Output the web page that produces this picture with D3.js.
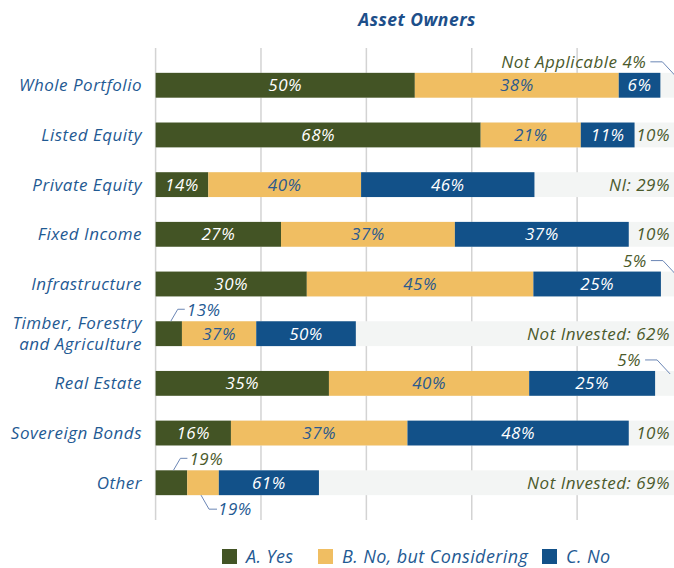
<!DOCTYPE html>
<html>
<head>
<meta charset="utf-8">
<script src="https://cdn.jsdelivr.net/npm/d3@7"></script>
<style>
  body { margin: 0; background: #fff; }
  text { font-family: "Open Sans", Lato, sans-serif; font-style: italic; letter-spacing: 0.5px; }
</style>
</head>
<body>
<svg id="chart"></svg>
<script>
// Asset owners survey, bar lengths are % of all respondents,
// labels are the printed shares
const categories = ['Whole Portfolio', 'Listed Equity', 'Private Equity', 'Fixed Income', 'Infrastructure',
  'Timber, Forestry and Agriculture', 'Real Estate', 'Sovereign Bonds', 'Other'];
const yesValues = [49.2, 61.7, 10.0, 23.8, 28.7, 5.0, 32.9, 14.3, 6.0];
const consideringValues = [38.7, 19.0, 29.0, 33.0, 43.0, 14.1, 38.0, 33.5, 6.0];
const noValues = [7.9, 10.2, 32.9, 33.0, 24.2, 18.9, 23.9, 42.0, 19.0];
const yesLabels = ['50%', '68%', '14%', '27%', '30%', '13%', '35%', '16%', '19%'];
const consideringLabels = ['38%', '21%', '40%', '37%', '45%', '37%', '40%', '37%', '19%'];
const noLabels = ['6%', '11%', '46%', '37%', '25%', '50%', '25%', '48%', '61%'];
const restLabels = ['Not Applicable 4%', '10%', 'NI: 29%', '10%', '5%', 'Not Invested: 62%', '5%', '10%', 'Not Invested: 69%'];
const gridTicks = [0, 20, 40, 60, 80, 100];
const seriesNames = ['A. Yes', 'B. No, but Considering', 'C. No'];

const width = 674, height = 568;
const colors = ['#435425', '#f0be62', '#125189'];
const labelColors = ['#ffffff', '#2b5a8f', '#ffffff'];
const blue = '#1f5a93', olive = '#4b5a2c', rest = '#f3f5f4', leader = '#6b86b5';
const fs = 17;

const svg = d3.select('#chart').attr('width', width).attr('height', height);

const x = d3.scaleLinear().domain([0, 100]).range([155.6, 682.5]);
const y = d3.scaleBand().domain(categories).range([48, 520]).paddingInner(0.5).paddingOuter(0.5);
const bw = y.bandwidth();

// title
svg.append('text')
  .attr('x', 417).attr('y', 26)
  .attr('text-anchor', 'middle')
  .attr('fill', '#1d4f8a')
  .attr('font-weight', 700)
  .attr('font-size', 17.5)
  .text('Asset Owners');

// gridlines
svg.append('g')
  .selectAll('line')
  .data(gridTicks)
  .join('line')
  .attr('x1', d => x(d)).attr('x2', d => x(d))
  .attr('y1', 48).attr('y2', 520)
  .attr('stroke', '#d3d3d3')
  .attr('stroke-width', 1.5);

// rows
const rows = categories.map((c, i) => {
  const vals = [yesValues[i], consideringValues[i], noValues[i]];
  const labs = [yesLabels[i], consideringLabels[i], noLabels[i]];
  let acc = 0;
  const segs = vals.map((v, k) => {
    const s = { k, x0: acc, x1: acc + v, label: labs[k] };
    acc += v;
    return s;
  });
  return { c, i, segs, end: acc, rest: restLabels[i] };
});

const row = svg.append('g')
  .selectAll('g')
  .data(rows)
  .join('g')
  .attr('transform', d => `translate(0,${y(d.c)})`);

// background for not invested / not applicable
row.append('rect')
  .attr('x', x(0)).attr('width', x(100) - x(0))
  .attr('height', bw)
  .attr('fill', rest);

row.selectAll('rect.seg')
  .data(d => d.segs)
  .join('rect')
  .attr('class', 'seg')
  .attr('x', d => x(d.x0))
  .attr('width', d => x(d.x1) - x(d.x0))
  .attr('height', bw)
  .attr('fill', d => colors[d.k]);

const narrow = s => x(s.x1) - x(s.x0) < 35;

// labels inside segments (narrow ones get callouts)
row.selectAll('text.seg')
  .data(d => d.segs.filter(s => !narrow(s)))
  .join('text')
  .attr('class', 'seg')
  .attr('x', d => (x(d.x0) + x(d.x1)) / 2)
  .attr('y', bw / 2)
  .attr('dy', '0.36em')
  .attr('text-anchor', 'middle')
  .attr('font-size', fs)
  .attr('fill', d => labelColors[d.k])
  .text(d => d.label);

// callouts for narrow segments
const line = d3.line();
row.each(function(d) {
  const g = d3.select(this);
  d.segs.filter(narrow).forEach(s => {
    const cx = (x(s.x0) + x(s.x1)) / 2;
    if (s.k === 0) {
      g.append('path')
        .attr('d', line([[cx + 2, 0], [cx + 9, -12], [cx + 16, -12]]))
        .attr('fill', 'none').attr('stroke', leader);
      g.append('text')
        .attr('x', cx + 18).attr('y', -5)
        .attr('font-size', fs)
        .attr('fill', d.i === categories.length - 1 ? olive : blue)
        .text(s.label);
    } else {
      g.append('path')
        .attr('d', line([[cx - 2, bw], [cx + 6, bw + 14], [cx + 14, bw + 14]]))
        .attr('fill', 'none').attr('stroke', leader);
      g.append('text')
        .attr('x', cx + 15).attr('y', bw + 20)
        .attr('font-size', fs)
        .attr('fill', blue)
        .text(s.label);
    }
  });

  // remainder label
  const rx = x(d.end);
  if (x(100) - rx < 30) {
    g.append('path')
      .attr('d', line([[rx - 10, -11], [rx + 2, -11], [rx + 15, 3]]))
      .attr('fill', 'none').attr('stroke', leader);
    g.append('text')
      .attr('x', rx - 14).attr('y', -5)
      .attr('text-anchor', 'end')
      .attr('font-size', fs)
      .attr('fill', olive)
      .text(d.rest);
  } else {
    g.append('text')
      .attr('x', 670).attr('y', bw / 2)
      .attr('dy', '0.36em')
      .attr('text-anchor', 'end')
      .attr('font-size', fs)
      .attr('fill', olive)
      .text(d.rest);
  }
});

// category labels, the long one wrapped onto two lines
const catLines = categories.flatMap(c => {
  const parts = c === 'Timber, Forestry and Agriculture' ? ['Timber, Forestry', 'and Agriculture'] : [c];
  return parts.map((p, j) => ({ c, p, off: parts.length > 1 ? (j === 0 ? -10.5 : 10.5) : 0 }));
});

svg.append('g')
  .selectAll('text')
  .data(catLines)
  .join('text')
  .attr('x', 142)
  .attr('y', d => y(d.c) + bw / 2 + d.off)
  .attr('dy', '0.36em')
  .attr('text-anchor', 'end')
  .attr('font-size', fs)
  .attr('fill', blue)
  .text(d => d.p);

// legend
const legend = svg.append('g')
  .selectAll('g')
  .data(seriesNames)
  .join('g')
  .attr('transform', (d, i) => `translate(${[222, 318, 542][i]},549)`);

legend.append('rect')
  .attr('width', 15).attr('height', 15)
  .attr('fill', (d, i) => colors[i]);

legend.append('text')
  .attr('x', 24).attr('y', 14)
  .attr('font-size', 18)
  .style('letter-spacing', '0.4px')
  .attr('fill', blue)
  .text(d => d);
</script>
</body>
</html>
